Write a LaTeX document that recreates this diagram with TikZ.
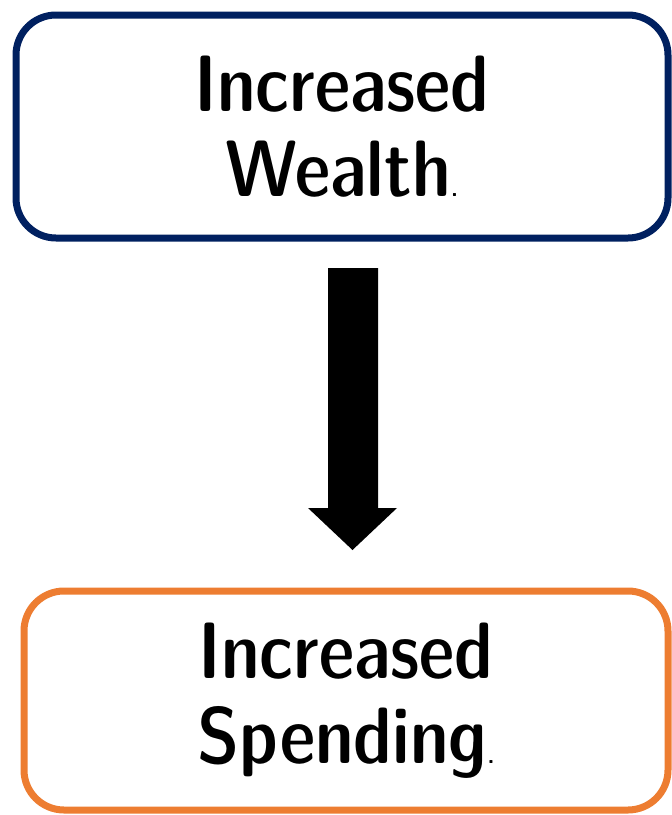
\documentclass[tikz,border=0pt]{standalone}
\usepackage{fontspec}
\newfontfamily\boxfont{Latin Modern Sans Demi Cond}
\usetikzlibrary{positioning}

\newcommand{\tinydot}{{\fontsize{14}{14}\selectfont.}}

\begin{document}
\begin{tikzpicture}[x=0.5pt, y=-0.5pt,
    every node/.style={font=\boxfont\fontsize{40}{42.5}\selectfont, align=center},
    stepbox/.style={draw, line width=3.5pt, rounded corners=20pt, fill=white, inner sep=0pt}]
  \useasboundingbox (0,0) rectangle (672,815);
  \definecolor{navyline}{RGB}{0,32,96}
  \definecolor{orangeline}{RGB}{237,125,49}
  % cause and effect boxes
  \node[stepbox, draw=navyline, minimum width=326pt, minimum height=111.5pt] (wealth) at (342,126.5) {Increased\\Wealth\tinydot};
  \node[stepbox, draw=orangeline, minimum width=322pt, minimum height=109.5pt] (spending) at (346,700.5) {Increased\\Spending\tinydot};
  % block arrow between them
  \fill[black] (328,268) -- (378,268) -- (378,508) -- (397,508) -- (352.5,550)
    -- (308,508) -- (328,508) -- cycle;
\end{tikzpicture}
\end{document}
